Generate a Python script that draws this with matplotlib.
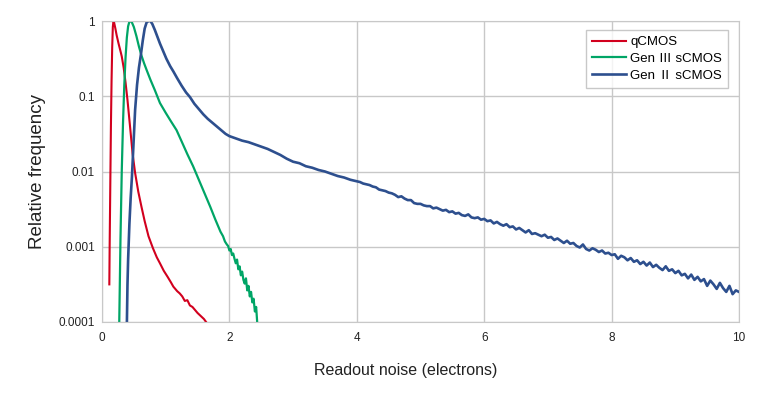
import matplotlib.pyplot as plt
import numpy as np

plt.rcParams['font.family'] = ['Liberation Sans', 'Noto Sans CJK JP', 'DejaVu Sans']

# qCMOS (x in electrons, log10 of relative frequency)
q_x = [0.115, 0.12, 0.13, 0.14, 0.15, 0.16, 0.17, 0.18, 0.19, 0.21, 0.23, 0.26, 0.29,
       0.31, 0.34, 0.37, 0.40, 0.44, 0.48, 0.52, 0.57, 0.62, 0.67, 0.73, 0.80, 0.86,
       0.91, 0.97, 1.03, 1.08, 1.12, 1.18, 1.22, 1.26, 1.30, 1.34, 1.38, 1.42, 1.46,
       1.50, 1.55, 1.60, 1.66]
q_log = [-3.5, -3.0, -2.2, -1.4, -0.8, -0.35, -0.08, 0.0, -0.02, -0.10, -0.19, -0.30, -0.40,
         -0.47, -0.62, -0.82, -1.05, -1.40, -1.76, -2.02, -2.27, -2.47, -2.66, -2.86, -3.02, -3.14,
         -3.22, -3.32, -3.40, -3.47, -3.53, -3.59, -3.62, -3.66, -3.72, -3.71, -3.78, -3.80, -3.84,
         -3.88, -3.92, -3.96, -4.03]

# Gen III sCMOS
g3_x = [0.27, 0.29, 0.31, 0.33, 0.35, 0.37, 0.39, 0.41, 0.43, 0.45, 0.47, 0.50, 0.54, 0.58,
        0.62, 0.66, 0.70, 0.76, 0.83, 0.91, 1.00, 1.08, 1.17, 1.25, 1.34, 1.43, 1.52, 1.61,
        1.70, 1.78, 1.86, 1.90, 1.93, 1.96, 1.98, 2.00, 2.02, 2.04, 2.06, 2.08, 2.10, 2.12,
        2.14, 2.16, 2.18, 2.20, 2.22, 2.24, 2.26, 2.28, 2.30, 2.32, 2.34, 2.36, 2.38, 2.40,
        2.42, 2.44]
g3_log = [-4.05, -2.9, -2.0, -1.35, -0.85, -0.48, -0.22, -0.07, -0.01, 0.0, -0.02, -0.08, -0.20, -0.34,
          -0.46, -0.56, -0.65, -0.78, -0.92, -1.09, -1.22, -1.33, -1.45, -1.60, -1.77, -1.93, -2.11, -2.29,
          -2.47, -2.64, -2.80, -2.86, -2.93, -2.97, -2.99, -3.05, -3.03, -3.11, -3.09, -3.16, -3.22, -3.17,
          -3.30, -3.26, -3.38, -3.33, -3.44, -3.49, -3.42, -3.58, -3.52, -3.66, -3.60, -3.74, -3.69, -3.86,
          -3.80, -4.05]

# Gen II sCMOS
g2_x = [0.39, 0.40, 0.41, 0.43, 0.45, 0.47, 0.50, 0.52, 0.55, 0.58, 0.61, 0.64, 0.67, 0.70,
        0.73, 0.76, 0.79, 0.83, 0.87, 0.91, 0.96, 1.01, 1.07, 1.12, 1.18, 1.25, 1.32, 1.38,
        1.45, 1.52, 1.59, 1.66, 1.73, 1.80, 1.87, 1.94, 2.00,
        2.1, 2.2, 2.3, 2.4, 2.5, 2.6, 2.7, 2.8, 2.9, 3.0, 3.1, 3.2, 3.3, 3.4, 3.5, 3.6,
        3.7, 3.8, 3.9, 4.0,
        4.05, 4.10, 4.15, 4.20, 4.25, 4.30, 4.35, 4.40, 4.45, 4.50, 4.55, 4.60, 4.65, 4.70,
        4.75, 4.80, 4.85, 4.90, 4.95, 5.00, 5.05, 5.10, 5.15, 5.20, 5.25, 5.30, 5.35, 5.40,
        5.45, 5.50, 5.55, 5.60, 5.65, 5.70, 5.75, 5.80, 5.85, 5.90, 5.95, 6.00, 6.05, 6.10,
        6.15, 6.20, 6.25, 6.30, 6.35, 6.40, 6.45, 6.50, 6.55, 6.60, 6.65, 6.70, 6.75, 6.80,
        6.85, 6.90, 6.95, 7.00, 7.05, 7.10, 7.15, 7.20, 7.25, 7.30, 7.35, 7.40, 7.45, 7.50,
        7.55, 7.60, 7.65, 7.70, 7.75, 7.80, 7.85, 7.90, 7.95, 8.00, 8.05, 8.10, 8.15, 8.20,
        8.25, 8.30, 8.35, 8.40, 8.45, 8.50, 8.55, 8.60, 8.65, 8.70, 8.75, 8.80, 8.85, 8.90,
        8.95, 9.00, 9.05, 9.10, 9.15, 9.20, 9.25, 9.30, 9.35, 9.40, 9.45, 9.50, 9.55, 9.60,
        9.65, 9.70, 9.75, 9.80, 9.85, 9.90, 9.95, 10.0]
g2_log = [-4.05, -3.5, -3.17, -2.7, -2.35, -2.07, -1.55, -1.18, -0.85, -0.62, -0.45, -0.26, -0.10, -0.02,
          0.0, 0.0, -0.04, -0.12, -0.21, -0.30, -0.40, -0.50, -0.60, -0.67, -0.76, -0.86, -0.95, -1.01,
          -1.10, -1.17, -1.24, -1.30, -1.35, -1.40, -1.45, -1.50, -1.53,
          -1.56, -1.59, -1.61, -1.64, -1.67, -1.70, -1.74, -1.78, -1.83, -1.87, -1.89, -1.93, -1.95, -1.98, -2.00, -2.03,
          -2.06, -2.08, -2.11, -2.13,
          -2.14, -2.16, -2.17, -2.18, -2.20, -2.21, -2.24, -2.25, -2.26, -2.28, -2.29, -2.31, -2.34, -2.33,
          -2.36, -2.38, -2.38, -2.42, -2.43, -2.43, -2.45, -2.46, -2.46, -2.49, -2.48, -2.50, -2.52, -2.51,
          -2.54, -2.53, -2.56, -2.55, -2.58, -2.59, -2.57, -2.61, -2.62, -2.61, -2.64, -2.63, -2.66, -2.65,
          -2.69, -2.67, -2.70, -2.72, -2.70, -2.74, -2.73, -2.77, -2.75, -2.78, -2.81, -2.78, -2.83, -2.82,
          -2.84, -2.86, -2.84, -2.88, -2.87, -2.91, -2.89, -2.92, -2.95, -2.92, -2.96, -2.95, -2.99, -3.01,
          -2.97, -3.03, -3.05, -3.02, -3.04, -3.07, -3.05, -3.09, -3.08, -3.11, -3.10, -3.16, -3.12, -3.14,
          -3.18, -3.15, -3.20, -3.18, -3.23, -3.20, -3.25, -3.21, -3.27, -3.24, -3.28, -3.31, -3.26, -3.32,
          -3.30, -3.35, -3.32, -3.38, -3.36, -3.42, -3.37, -3.44, -3.40, -3.46, -3.43, -3.52, -3.45, -3.50,
          -3.56, -3.48, -3.55, -3.60, -3.52, -3.63, -3.58, -3.60]

labels = ['qCMOS', 'Gen Ⅲ sCMOS', 'Gen Ⅱ sCMOS']
colors = ['#d2001e', '#00a566', '#2d4f8e']
widths = [1.5, 1.6, 1.9]

fig = plt.figure(figsize=(7.68, 3.98), dpi=100)
ax = fig.add_axes([102/768, 1 - 322/398, 637/768, 301/398])

series = [(q_x, q_log), (g3_x, g3_log), (g2_x, g2_log)]
for (xs, ls), lab, c, w in zip(series, labels, colors, widths):
    ax.plot(xs, 10 ** np.array(ls), color=c, lw=w, label=lab)

ax.set_yscale('log')
ax.set_xlim(0, 10)
ax.set_ylim(1e-4, 1)
ax.set_xticks([0, 2, 4, 6, 8, 10])
ax.set_yticks([1e-4, 1e-3, 1e-2, 1e-1, 1])
ax.set_yticklabels(['0.0001', '0.001', '0.01', '0.1', '1'])
ax.yaxis.set_minor_locator(plt.NullLocator())
ax.tick_params(length=0, labelsize=8.5, colors='#222222')
ax.tick_params(axis='y', pad=5)
ax.tick_params(axis='x', pad=7)
ax.grid(True, color='#c8c8c8', lw=1)
for s in ax.spines.values():
    s.set_color('#c8c8c8')

ax.set_xlabel('Readout noise (electrons)', fontsize=11.5, color='#222222')
ax.xaxis.set_label_coords(0.476, -0.135)
ax.set_ylabel('Relative frequency', fontsize=13.5, color='#222222', labelpad=9)

leg = ax.legend(loc='upper right', bbox_to_anchor=(0.983, 0.970), borderaxespad=0,
                fontsize=9.5, frameon=True, fancybox=False, handlelength=2.6,
                handletextpad=0.3, labelspacing=0.35, borderpad=0.45)
leg.get_frame().set_edgecolor('#bbbbbb')
leg.get_frame().set_linewidth(1)

fig.savefig('out.png', dpi=100, facecolor='white')
